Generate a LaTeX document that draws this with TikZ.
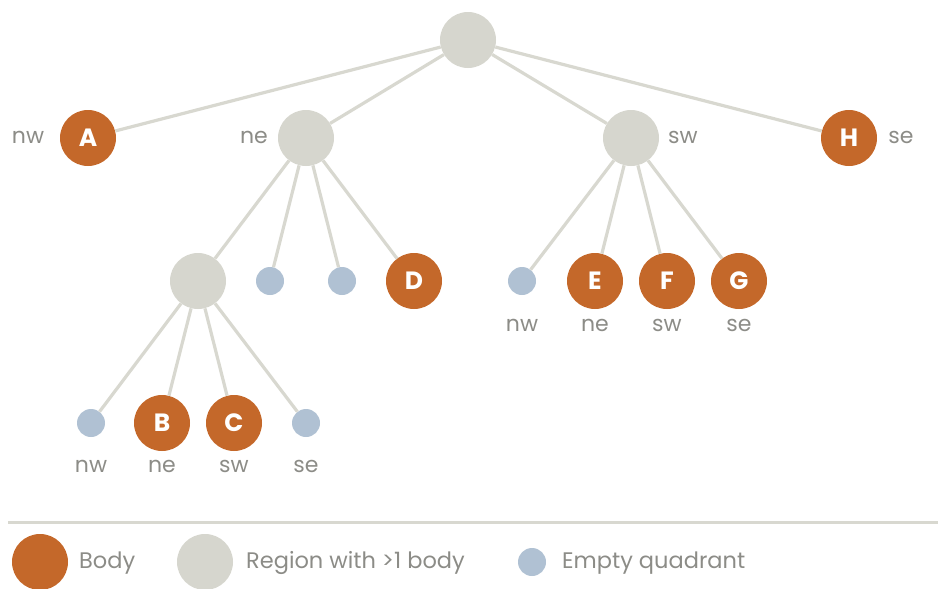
\documentclass[tikz,border=0pt]{standalone}
\usepackage{fontspec}
\setmainfont{Poppins}
\definecolor{bodyc}{HTML}{C4682A}
\definecolor{regc}{HTML}{D6D6CE}
\definecolor{emptyc}{HTML}{B0C1D3}
\definecolor{edgec}{HTML}{D8D8D0}
\definecolor{txtc}{HTML}{8C8C87}
\tikzset{
  bodyn/.style={circle,fill=bodyc,minimum size=56pt,inner sep=0pt,text=white,font=\fontsize{25}{25}\selectfont\bfseries},
  regn/.style={circle,fill=regc,minimum size=56pt,inner sep=0pt},
  emptyn/.style={circle,fill=emptyc,minimum size=28pt,inner sep=0pt},
  lab/.style={text=txtc,font=\fontsize{22}{22}\selectfont,inner sep=0pt},
  legt/.style={text=txtc,font=\fontsize{22.5}{22.5}\selectfont,inner sep=0pt,anchor=west},
  edge/.style={draw=edgec,line width=3.2pt}
}
\begin{document}
\begin{tikzpicture}[x=1pt,y=-1pt]
\useasboundingbox (0,0) rectangle (940,589);
% nodes
\node[regn] (root) at (468,40) {};
\node[bodyn] (A) at (88,138) {A};
\node[regn] (ne) at (306,138) {};
\node[regn] (sw) at (631,138) {};
\node[bodyn] (H) at (849,138) {H};
\node[regn] (g2) at (198,281) {};
\node[emptyn] (e1) at (270,281) {};
\node[emptyn] (e2) at (342,281) {};
\node[bodyn] (D) at (414,281) {D};
\node[emptyn] (e3) at (522,281) {};
\node[bodyn] (E) at (595,281) {E};
\node[bodyn] (F) at (667,281) {F};
\node[bodyn] (G) at (739,281) {G};
\node[emptyn] (e4) at (91,423) {};
\node[bodyn] (B) at (162,423) {B};
\node[bodyn] (C) at (234,423) {C};
\node[emptyn] (e5) at (306,423) {};
% edges
\foreach \t in {A,ne,sw,H} \draw[edge] (root) -- (\t);
\foreach \t in {g2,e1,e2,D} \draw[edge] (ne) -- (\t);
\foreach \t in {e3,E,F,G} \draw[edge] (sw) -- (\t);
\foreach \t in {e4,B,C,e5} \draw[edge] (g2) -- (\t);
% labels
\node[lab] (lA) at (28,137) {nw};
\node[lab] (lne) at (254,137) {ne};
\node[lab] (lsw) at (683,137) {sw};
\node[lab] (lH) at (901,137) {se};
\node[lab] (l3) at (522,325) {nw};
\node[lab] (lE) at (595,325) {ne};
\node[lab] (lF) at (667,325) {sw};
\node[lab] (lG) at (739,325) {se};
\node[lab] (l4) at (91,466) {nw};
\node[lab] (lB) at (162,466) {ne};
\node[lab] (lC) at (234,466) {sw};
\node[lab] (l5) at (306,466) {se};
% separator
\coordinate (s1) at (8,522);
\coordinate (s2) at (938,522);
\draw[draw=edgec,line width=3pt] (s1) -- (s2);
% legend
\node[bodyn] (k1) at (40,562) {};
\node[legt] (t1) at (79,563) {Body};
\node[regn] (k2) at (205,562) {};
\node[legt] (t2) at (246,563) {Region with >1 body};
\node[emptyn] (k3) at (532,562) {};
\node[legt] (t3) at (562,563) {Empty quadrant};
\end{tikzpicture}
\end{document}
